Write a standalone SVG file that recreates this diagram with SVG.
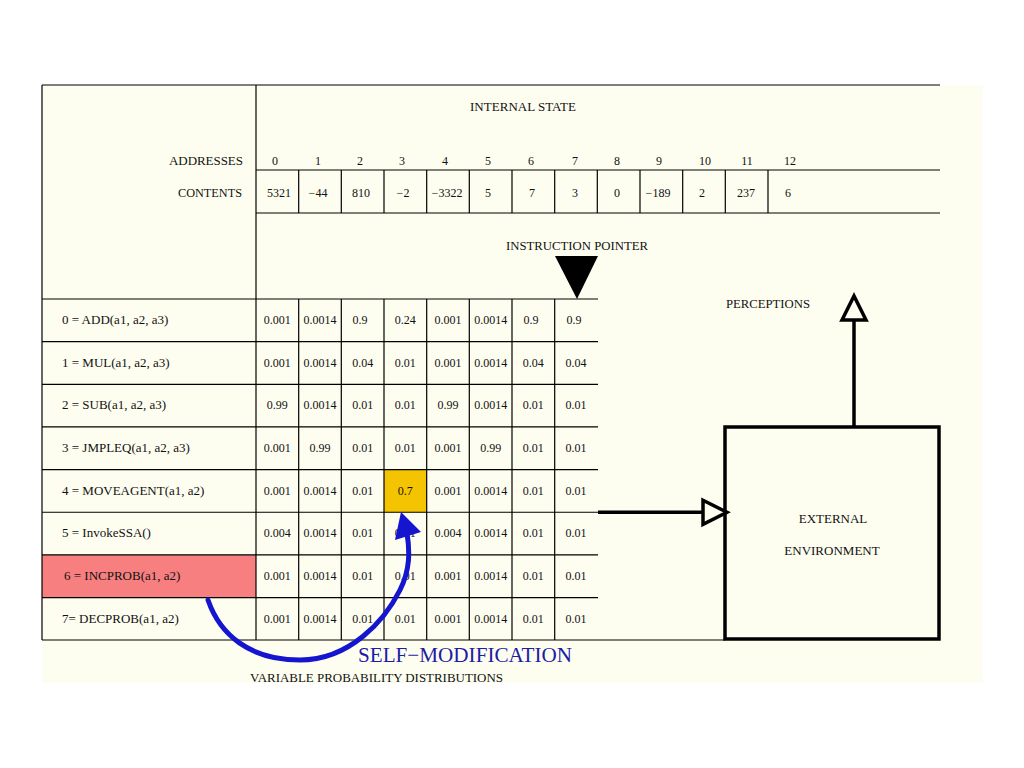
<svg xmlns="http://www.w3.org/2000/svg" width="1024" height="768" viewBox="0 0 1024 768">
<style>
text{font-family:"Liberation Serif","Times New Roman",serif;font-size:12px;fill:#111}
.c{text-anchor:middle}
.lbl{font-size:13px}
.ln{stroke:#000;stroke-width:1.2;fill:none}
.thick{stroke:#000;stroke-width:3.5;fill:none}
.blue{stroke:#1515d0;stroke-width:5;fill:none;stroke-linecap:round}
</style>
<defs>
<marker id="hollow" viewBox="-3 -3 32 32" markerWidth="32" markerHeight="32" markerUnits="userSpaceOnUse" refX="1" refY="13" orient="auto" overflow="visible">
<path d="M1,1 L25,13 L1,25 Z" fill="#fefef0" stroke="#000" stroke-width="3.5" stroke-linejoin="miter"/>
</marker>
</defs>
<rect x="0" y="0" width="1024" height="768" fill="#ffffff"/>
<rect x="42" y="85" width="941" height="598" fill="#fefef0"/>

<g id="highlights">
<rect x="42" y="554.9" width="214" height="42.65" fill="#f77f7f"/>
<rect x="384" y="469.6" width="42.67" height="42.65" fill="#f5c400"/>
</g>

<g id="memory-table">
<line class="ln" x1="42" y1="85" x2="940" y2="85"/>
<line class="ln" x1="42" y1="85" x2="42" y2="640"/>
<line class="ln" x1="256" y1="85" x2="256" y2="640"/>
<line class="ln" x1="256" y1="170" x2="940" y2="170"/>
<line class="ln" x1="256" y1="213" x2="940" y2="213"/>
<path class="ln" d="M298.7,170V213M341.3,170V213M384,170V213M426.7,170V213M469.3,170V213M512,170V213M554.7,170V213M597.3,170V213M640,170V213M682.7,170V213M725.3,170V213M768,170V213"/>
<text class="c lbl" x="523" y="111" textLength="106" lengthAdjust="spacing">INTERNAL STATE</text>
<text class="lbl" x="169" y="165" textLength="74" lengthAdjust="spacing">ADDRESSES</text>
<text class="lbl" x="178" y="197" textLength="64" lengthAdjust="spacingAndGlyphs">CONTENTS</text>
<g>
<text class="c" x="275" y="165">0</text><text class="c" x="318" y="165">1</text><text class="c" x="360" y="165">2</text><text class="c" x="402" y="165">3</text><text class="c" x="445" y="165">4</text><text class="c" x="488" y="165">5</text><text class="c" x="531" y="165">6</text><text class="c" x="575" y="165">7</text><text class="c" x="617" y="165">8</text><text class="c" x="659" y="165">9</text><text class="c" x="705" y="165">10</text><text class="c" x="747" y="165">11</text><text class="c" x="790" y="165">12</text>
<text class="c" x="279" y="197">5321</text><text class="c" x="318" y="197">−44</text><text class="c" x="361" y="197">810</text><text class="c" x="403" y="197">−2</text><text class="c" x="447" y="197">−3322</text><text class="c" x="488" y="197">5</text><text class="c" x="532" y="197">7</text><text class="c" x="575" y="197">3</text><text class="c" x="617" y="197">0</text><text class="c" x="658" y="197">−189</text><text class="c" x="702" y="197">2</text><text class="c" x="746" y="197">237</text><text class="c" x="788" y="197">6</text>
</g>
</g>

<g id="instruction-pointer">
<text class="lbl" x="506" y="250" textLength="142" lengthAdjust="spacingAndGlyphs">INSTRUCTION POINTER</text>
<polygon points="555,256 598,256 577,299" fill="#000"/>
</g>

<g id="probability-table">
<path class="ln" d="M42,299H598M42,341.65H598M42,384.3H598M42,426.95H598M42,469.6H598M42,512.25H598M42,554.9H598M42,597.55H598M42,640H725"/>
<path class="ln" d="M298.7,299V640M341.3,299V640M384,299V640M426.7,299V640M469.3,299V640M512,299V640M554.7,299V640"/>
<text class="lbl" x="62" y="324">0 = ADD(a1, a2, a3)</text>
<text class="lbl" x="62" y="366.6">1 = MUL(a1, a2, a3)</text>
<text class="lbl" x="62" y="409.3">2 = SUB(a1, a2, a3)</text>
<text class="lbl" x="62" y="452">3 = JMPLEQ(a1, a2, a3)</text>
<text class="lbl" x="62" y="494.6">4 = MOVEAGENT(a1, a2)</text>
<text class="lbl" x="62" y="537.3">5 = InvokeSSA()</text>
<text class="lbl" x="64" y="580">6 = INCPROB(a1, a2)</text>
<text class="lbl" x="62" y="622.5">7= DECPROB(a1, a2)</text>
<g>
<text class="c" x="277.3" y="324">0.001</text><text class="c" x="320" y="324">0.0014</text><text class="c" x="360" y="324">0.9</text><text class="c" x="405.3" y="324">0.24</text><text class="c" x="448" y="324">0.001</text><text class="c" x="490.7" y="324">0.0014</text><text class="c" x="531" y="324">0.9</text><text class="c" x="574" y="324">0.9</text>
<text class="c" x="277.3" y="366.6">0.001</text><text class="c" x="320" y="366.6">0.0014</text><text class="c" x="362.7" y="366.6">0.04</text><text class="c" x="405.3" y="366.6">0.01</text><text class="c" x="448" y="366.6">0.001</text><text class="c" x="490.7" y="366.6">0.0014</text><text class="c" x="533.3" y="366.6">0.04</text><text class="c" x="576" y="366.6">0.04</text>
<text class="c" x="277.3" y="409.3">0.99</text><text class="c" x="320" y="409.3">0.0014</text><text class="c" x="362.7" y="409.3">0.01</text><text class="c" x="405.3" y="409.3">0.01</text><text class="c" x="448" y="409.3">0.99</text><text class="c" x="490.7" y="409.3">0.0014</text><text class="c" x="533.3" y="409.3">0.01</text><text class="c" x="576" y="409.3">0.01</text>
<text class="c" x="277.3" y="452">0.001</text><text class="c" x="320" y="452">0.99</text><text class="c" x="362.7" y="452">0.01</text><text class="c" x="405.3" y="452">0.01</text><text class="c" x="448" y="452">0.001</text><text class="c" x="490.7" y="452">0.99</text><text class="c" x="533.3" y="452">0.01</text><text class="c" x="576" y="452">0.01</text>
<text class="c" x="277.3" y="494.6">0.001</text><text class="c" x="320" y="494.6">0.0014</text><text class="c" x="362.7" y="494.6">0.01</text><text class="c" x="405.3" y="494.6">0.7</text><text class="c" x="448" y="494.6">0.001</text><text class="c" x="490.7" y="494.6">0.0014</text><text class="c" x="533.3" y="494.6">0.01</text><text class="c" x="576" y="494.6">0.01</text>
<text class="c" x="277.3" y="537.3">0.004</text><text class="c" x="320" y="537.3">0.0014</text><text class="c" x="362.7" y="537.3">0.01</text><text class="c" x="405.3" y="537.3">0.01</text><text class="c" x="448" y="537.3">0.004</text><text class="c" x="490.7" y="537.3">0.0014</text><text class="c" x="533.3" y="537.3">0.01</text><text class="c" x="576" y="537.3">0.01</text>
<text class="c" x="277.3" y="580">0.001</text><text class="c" x="320" y="580">0.0014</text><text class="c" x="362.7" y="580">0.01</text><text class="c" x="405.3" y="580">0.01</text><text class="c" x="448" y="580">0.001</text><text class="c" x="490.7" y="580">0.0014</text><text class="c" x="533.3" y="580">0.01</text><text class="c" x="576" y="580">0.01</text>
<text class="c" x="277.3" y="622.5">0.001</text><text class="c" x="320" y="622.5">0.0014</text><text class="c" x="362.7" y="622.5">0.01</text><text class="c" x="405.3" y="622.5">0.01</text><text class="c" x="448" y="622.5">0.001</text><text class="c" x="490.7" y="622.5">0.0014</text><text class="c" x="533.3" y="622.5">0.01</text><text class="c" x="576" y="622.5">0.01</text>
</g>
<text x="250" y="682" textLength="253" lengthAdjust="spacingAndGlyphs">VARIABLE PROBABILITY DISTRIBUTIONS</text>
</g>

<g id="external-environment">
<rect class="thick" x="725" y="427" width="214" height="212"/>
<text class="c lbl" x="833" y="523">EXTERNAL</text>
<text class="c lbl" x="832" y="555">ENVIRONMENT</text>
</g>

<g id="connectors">
<line class="thick" x1="598" y1="512.3" x2="703" y2="512.3" marker-end="url(#hollow)"/>
<line class="thick" x1="854" y1="427" x2="854" y2="320" marker-end="url(#hollow)"/>
<path class="blue" d="M208,600 C220,635 250,660 300,660 C350,660 385,620 400,590 C410,570 410,552 407,533"/>
<polygon points="401,512 395,540 421,532" fill="#1515d0"/>
</g>

<g id="labels">
<text x="726" y="308" textLength="84" lengthAdjust="spacingAndGlyphs">PERCEPTIONS</text>
<text x="358" y="662" textLength="214" lengthAdjust="spacingAndGlyphs" style="font-size:21px;fill:#1c1ca8">SELF−MODIFICATION</text>
</g>
</svg>
